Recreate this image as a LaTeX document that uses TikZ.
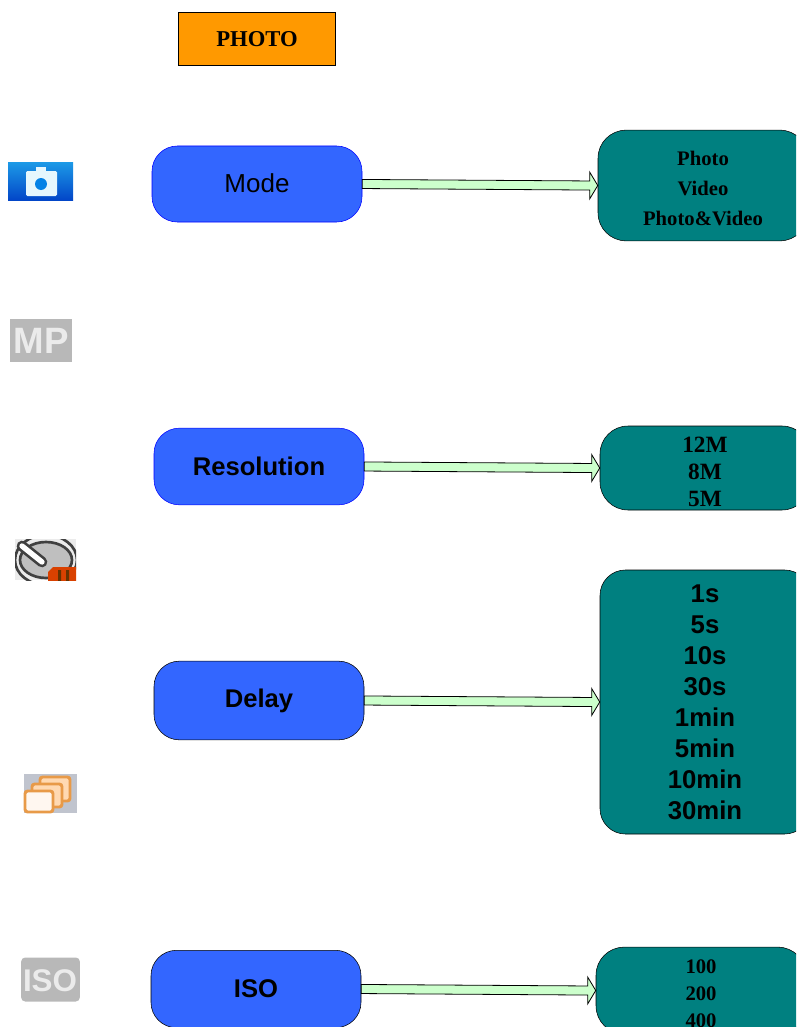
\documentclass[tikz,border=0pt]{standalone}
\usepackage{fontspec}
\setmainfont{Liberation Serif}
\setsansfont{Liberation Sans}
\usetikzlibrary{calc}
\definecolor{bluebox}{HTML}{3366FF}
\definecolor{tealbox}{HTML}{008080}
\definecolor{arrowgreen}{HTML}{CCFFCC}
\definecolor{titleorange}{HTML}{FF9900}
\definecolor{camtop}{HTML}{1C98E6}
\definecolor{cammid}{HTML}{0482E6}
\definecolor{cambot}{HTML}{0246C8}
\definecolor{iconback}{HTML}{C0C4CE}
\definecolor{framebrown}{HTML}{E89A48}
\tikzset{
  setting/.style={draw=black,fill=bluebox,rounded corners=19pt,minimum width=157.5pt,minimum height=#1,inner sep=0pt,font=\sffamily\fontsize{19.2}{19}\selectfont\bfseries},
  values/.style={draw=black,fill=tealbox,rounded corners=21pt,minimum width=157.5pt,minimum height=#1,inner sep=0pt,align=center,font=\bfseries},
  blockarrow/.style={draw=black,fill=arrowgreen,line width=0.6pt},
  icontext/.style={inner sep=0pt,text=white,font=\sffamily\bfseries},
  frameicon/.style={draw=framebrown,line width=2.2pt,rounded corners=2pt},
}
\newcommand{\connect}[2]{
  \draw[blockarrow] let \p1=(#1.east),\p2=(#2.west) in
    (\x1,\y1+3.4pt) -- (\x2-6pt,\y2+3.4pt) -- (\x2-6pt,\y2+10pt) -- (\x2,\y2)
    -- (\x2-6pt,\y2-10pt) -- (\x2-6pt,\y2-3.4pt) -- (\x1,\y1-3.4pt) -- cycle;
}
\begin{document}
\begin{tikzpicture}[x=0.75pt,y=-0.75pt]
\useasboundingbox (0,0) rectangle (796,1027);
\clip (0,0) rectangle (796,1027);
\node[draw=black,fill=titleorange,minimum width=118pt,minimum height=40pt,inner sep=0pt,font=\bfseries\fontsize{17}{17}\selectfont] (photo) at (257,39) {PHOTO};
% settings
\node[setting=57pt,draw=blue,font=\sffamily\fontsize{19.5}{19}\selectfont] (mode) at (257,184) {\raisebox{1pt}{Mode}};
\node[setting=57.5pt,draw=blue] (resolution) at (259,466.5) {\raisebox{1pt}{Resolution}};
\node[setting=59pt] (delay) at (259,700.5) {Delay};
\node[setting=58pt] (iso) at (256,989) {ISO};
% values
\node[values=83pt,font=\bfseries\fontsize{15.5}{22.5}\selectfont] (modevals) at (703,185.5) {\rule{0pt}{15.5pt}Photo\\Video\\Photo\&Video};
\node[values=63pt,font=\bfseries\fontsize{17.5}{20}\selectfont] (resvals) at (705,468) {\rule{0pt}{17.5pt}12M\\8M\\5M};
\node[values=198pt,rounded corners=19pt,font=\sffamily\bfseries\fontsize{19.3}{23.25}\selectfont] (delayvals) at (705,702) {\rule{0pt}{12pt}1s\\5s\\10s\\30s\\1min\\5min\\10min\\30min};
\node[values=65pt,font=\bfseries\fontsize{15.5}{20}\selectfont] (isovals) at (701,990.5) {\rule{0pt}{15pt}100\\200\\400};
\foreach \a/\b in {mode/modevals,resolution/resvals,delay/delayvals,iso/isovals} {
  \connect{\a}{\b}
}
% icons
\shade[top color=camtop,middle color=cammid,bottom color=cambot] (8,163) rectangle (73,200);
\fill[white!90!cyan,rounded corners=1pt] (26,171) rectangle (57,196);
\fill[white!90!cyan] (36,167) rectangle (46,172);
\fill[cammid] (41,184) circle (6);
\node[fill=black!28,minimum width=46.5pt,minimum height=32pt,inner sep=0pt] (mpicon) at (41,340.5) {};
\node[icontext,text=white!92!black,font=\sffamily\bfseries\fontsize{27.5}{28}\selectfont] (mptext) at (41,340.5) {MP};
\begin{scope}
\clip (15,539) rectangle (76,580);
\fill[black!8] (15,539) rectangle (76,580);
\draw[black!75,fill=black!25,line width=2pt] (46,560) circle (26 and 18);
\draw[black!75,line width=2pt] (46,560) circle (31 and 25);
\draw[black!75,line width=8pt,line cap=round] (22,546) -- (42,562);
\draw[white,line width=4pt,line cap=round] (22,546) -- (42,562);
\fill[orange!60!red!85!black] (48,581) -- (48,572) -- (53,567) -- (77,567) -- (77,581) -- cycle;
\fill[black!60!orange] (58,570) rectangle (61,581) (66,570) rectangle (69,581);
\end{scope}
\fill[iconback] (24,774) rectangle (77,813);
\draw[frameicon,fill=orange!30!white] (40,777) rectangle (70,801);
\draw[frameicon,fill=orange!30!white] (32,784) rectangle (62,807);
\draw[frameicon,fill=orange!6!white] (25,791) rectangle (53,812);
\node[fill=black!28,rounded corners=3pt,minimum width=44pt,minimum height=33pt,inner sep=0pt] (isoicon) at (50.5,979.5) {};
\node[icontext,text=white!92!black,font=\sffamily\bfseries\fontsize{23.5}{24}\selectfont] (isotext) at (50,981) {ISO};
\end{tikzpicture}
\end{document}
